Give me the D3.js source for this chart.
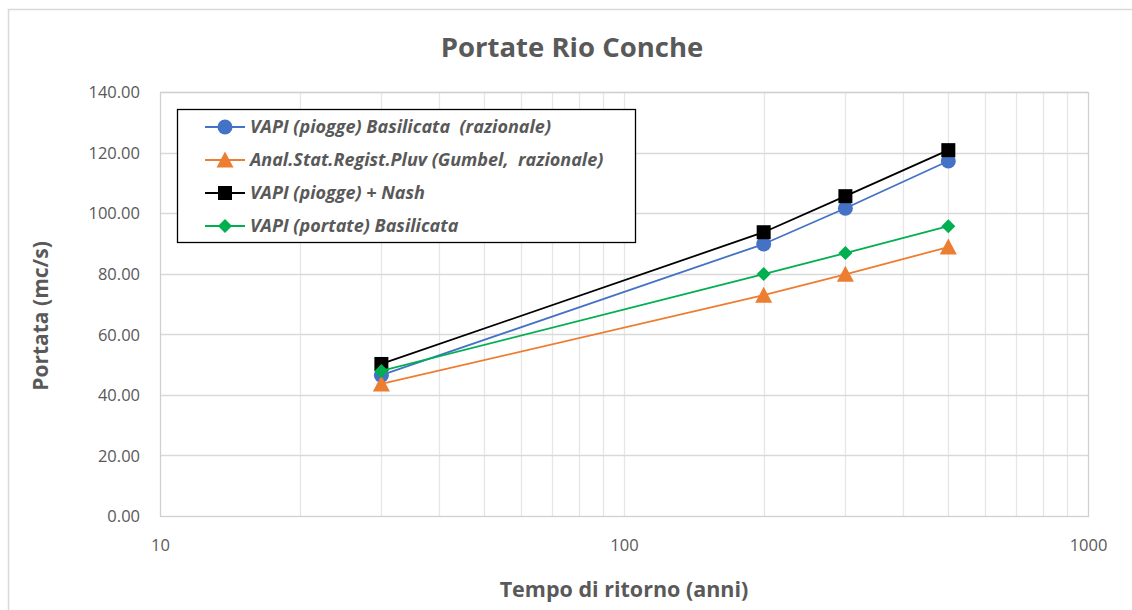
<!DOCTYPE html>
<html><head><meta charset="utf-8">
<script src="https://cdn.jsdelivr.net/npm/d3@7"></script>
<style>body{margin:0;background:#fff;} text{font-family:"Open Sans","Noto Sans",sans-serif;white-space:pre;}</style>
</head><body>
<svg id="chart" width="1132" height="610"></svg>
<script>
const years = [30, 200, 300, 500];
const vapiPiogge = [46.5, 89.8, 101.6, 117.2];
const gumbel = [43.6, 72.9, 79.8, 88.8];
const vapiNash = [50.2, 93.7, 105.6, 120.8];
const vapiPortate = [47.9, 79.9, 86.8, 95.7];
const seriesNames = ["VAPI (piogge) Basilicata  (razionale)", "Anal.Stat.Regist.Pluv (Gumbel,  razionale)", "VAPI (piogge) + Nash", "VAPI (portate) Basilicata"];
const seriesColors = ["#4472c4", "#ed7d31", "#000000", "#00b050"];
const seriesMarkers = ["circle", "triangle", "square", "diamond"];
const yTicks = [0, 20, 40, 60, 80, 100, 120, 140];
const xTicks = [10, 100, 1000];

const series = [vapiPiogge, gumbel, vapiNash, vapiPortate].map((v, i) => ({
  name: seriesNames[i], color: seriesColors[i], marker: seriesMarkers[i],
  pts: years.map((y, j) => ({x: y, y: v[j]}))
}));

const svg = d3.select("#chart");
const L = 160, R = 1088, T = 92, B = 516;
const x = d3.scaleLog().domain([10, 1000]).range([L, R]);
const y = d3.scaleLinear().domain([0, 140]).range([B, T]);
const textCol = "#595959";

// outer border
svg.append("rect").attr("x", 8.5).attr("y", 9.5).attr("width", 1140).attr("height", 620)
  .attr("fill", "none").attr("stroke", "#d9d9d9").attr("stroke-width", 1.5);

// gridlines
const minor = [];
for (let d = 10; d < 1000; d *= 10) for (let k = 2; k <= 9; k++) minor.push(d * k);
svg.append("g").selectAll("line.vx").data(minor.concat([100])).join("line")
  .attr("x1", d => Math.round(x(d)) + 0.5).attr("x2", d => Math.round(x(d)) + 0.5)
  .attr("y1", T).attr("y2", B).attr("stroke", "#e6e6e6").attr("stroke-width", 1.3);
svg.append("g").selectAll("line.hy").data(yTicks.slice(1)).join("line")
  .attr("x1", L).attr("x2", R)
  .attr("y1", d => Math.round(y(d)) + 0.5).attr("y2", d => Math.round(y(d)) + 0.5)
  .attr("stroke", "#d9d9d9").attr("stroke-width", 1.3);
// plot border
svg.append("rect").attr("x", L + 0.5).attr("y", T + 0.5).attr("width", R - L).attr("height", B - T)
  .attr("fill", "none").attr("stroke", "#d0d0d0").attr("stroke-width", 1.3);

// axes via d3
const yAxis = d3.axisLeft(y).tickValues(yTicks).tickFormat(d3.format(".2f")).tickSize(0).tickPadding(20);
const gy = svg.append("g").attr("transform", `translate(${L},0)`).call(yAxis);
gy.select(".domain").remove();
gy.selectAll("text").attr("fill", textCol).attr("font-size", 16.5).attr("dy", "0.35em");

const xAxis = d3.axisBottom(x).tickValues(xTicks).tickFormat(d3.format("d")).tickSize(0).tickPadding(23);
const gx = svg.append("g").attr("transform", `translate(0,${B})`).call(xAxis);
gx.select(".domain").remove();
gx.selectAll("text").attr("fill", textCol).attr("font-size", 16.5);

// titles
svg.append("text").attr("x", 572).attr("y", 57).attr("text-anchor", "middle")
  .attr("font-size", 27.5).attr("font-weight", "bold").attr("fill", textCol).text("Portate Rio Conche");
svg.append("text").attr("x", 624).attr("y", 597).attr("text-anchor", "middle")
  .attr("font-size", 21.5).attr("font-weight", "bold").attr("fill", textCol).text("Tempo di ritorno (anni)");
svg.append("text").attr("transform", "translate(48,316) rotate(-90)").attr("text-anchor", "middle")
  .attr("font-size", 21).attr("font-weight", "bold").attr("fill", textCol).text("Portata (mc/s)");

// markers
function drawMarker(g, type, cx, cy, color) {
  if (type === "circle") g.append("circle").attr("cx", cx).attr("cy", cy).attr("r", 7.5).attr("fill", color);
  else if (type === "triangle") g.append("path").attr("d", `M${cx},${cy-8.5}L${cx+8.5},${cy+7.5}L${cx-8.5},${cy+7.5}Z`).attr("fill", color);
  else if (type === "square") g.append("rect").attr("x", cx-7).attr("y", cy-7).attr("width", 14).attr("height", 14).attr("fill", color);
  else if (type === "diamond") g.append("path").attr("d", `M${cx},${cy-7}L${cx+7},${cy}L${cx},${cy+7}L${cx-7},${cy}Z`).attr("fill", color);
}

const line = d3.line().x(d => x(d.x)).y(d => y(d.y));
series.forEach(s => {
  const g = svg.append("g");
  g.append("path").attr("d", line(s.pts)).attr("fill", "none").attr("stroke", s.color).attr("stroke-width", 1.8);
  s.pts.forEach(p => drawMarker(g, s.marker, x(p.x), y(p.y), s.color));
});

// legend
const lg = svg.append("g");
lg.append("rect").attr("x", 177.5).attr("y", 109.5).attr("width", 458).attr("height", 133)
  .attr("fill", "#fff").attr("stroke", "#000").attr("stroke-width", 1.3);
const rowsY = [127, 160, 193, 226];
series.forEach((s, i) => {
  const cy = rowsY[i];
  lg.append("line").attr("x1", 205).attr("x2", 245).attr("y1", cy).attr("y2", cy).attr("stroke", s.color).attr("stroke-width", 1.8);
  drawMarker(lg, s.marker, 225, cy, s.color);
  lg.append("text").attr("x", 250).attr("y", cy).attr("dy", "0.35em").attr("font-size", 18)
    .attr("xml:space", "preserve")
    .attr("font-style", "italic").attr("font-weight", "bold").attr("fill", textCol).text(s.name);
});
</script>
</body></html>
